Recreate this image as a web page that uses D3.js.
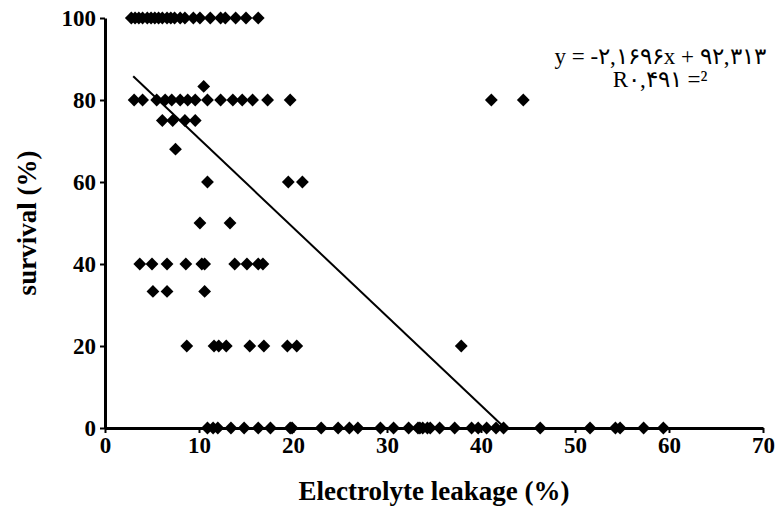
<!DOCTYPE html>
<html><head><meta charset="utf-8">
<script src="https://cdn.jsdelivr.net/npm/d3@7"></script>
<style>body{margin:0;background:#fff}</style>
</head><body>
<script>
// survival level -> electrolyte leakage values (%)
var row100 = [2.8,3.2,3.6,4.0,4.5,4.9,5.3,5.7,6.1,6.6,7.0,7.4,8.0,8.5,9.4,10.1,11.2,12.3,12.8,13.9,15.0,16.3];
var row83 = [10.5];
var row80 = [3.1,4.0,5.5,6.4,7.1,8.0,8.8,9.6,10.9,12.3,13.6,14.6,15.7,17.3,19.7,41.1,44.5];
var row75 = [6.1,7.2,8.5,9.6];
var row68 = [7.5];
var row60 = [10.9,19.5,21.0];
var row50 = [10.1,13.3];
var row40 = [3.7,5.0,6.6,8.6,10.3,10.6,13.8,15.1,16.3,16.8];
var row33 = [5.1,6.6,10.6];
var row20 = [8.7,11.6,12.1,12.9,15.4,16.9,19.4,20.4,37.9];
var row0 = [10.9,11.5,12.0,13.4,14.8,16.3,17.6,19.7,19.9,23.0,24.8,26.0,26.9,29.3,30.7,32.3,33.3,33.5,33.8,34.3,34.6,35.6,37.2,39.0,39.7,40.6,41.6,42.4,46.3,51.6,54.3,54.8,57.3,59.4];
var levels = [100,83.3,80,75,68,60,50,40,33.3,20,0];
var rows = [row100,row83,row80,row75,row68,row60,row50,row40,row33,row20,row0];
var xTicks = [0,10,20,30,40,50,60,70];
var yTicks = [0,20,40,60,80,100];
var slope = -2.1696, intercept = 92.313;

var svg = d3.select("body").append("svg").attr("width",776).attr("height",508);
var x = d3.scaleLinear().domain([0,70]).range([105,763]);
var y = d3.scaleLinear().domain([0,100]).range([428,18]);
var font = "'Liberation Serif', 'Times New Roman', serif";

var pts = [];
rows.forEach(function(r,i){ r.forEach(function(v){ pts.push([v,levels[i]]); }); });

svg.selectAll("path.pt").data(pts).enter().append("path")
  .attr("class","pt")
  .attr("d", d3.symbol().type(d3.symbolSquare).size(82))
  .attr("transform", function(d){ return "translate("+x(d[0])+","+y(d[1])+") rotate(45)"; })
  .attr("fill","#000");

// trend line
var x0 = 3, x1 = -intercept/slope;
svg.append("line").attr("x1",x(x0)).attr("y1",y(slope*x0+intercept))
  .attr("x2",x(x1)).attr("y2",y(0)).attr("stroke","#000").attr("stroke-width",2);

var xa = svg.append("g").attr("transform","translate(0,428)")
  .call(d3.axisBottom(x).tickValues(xTicks).tickSize(5).tickSizeOuter(0));
var ya = svg.append("g").attr("transform","translate(105,0)")
  .call(d3.axisLeft(y).tickValues(yTicks).tickSize(5).tickSizeOuter(0));
[xa,ya].forEach(function(a){
  a.attr("font-family",font).attr("font-size",23).attr("font-weight","bold");
  a.select(".domain").attr("stroke-width",3);
  a.selectAll(".tick line").attr("stroke-width",2);
  a.selectAll("text").attr("fill","#000");
});
ya.selectAll("text").attr("x",-9);
xa.selectAll("text").attr("y",9);

svg.append("text").attr("x",434).attr("y",500).attr("text-anchor","middle")
  .attr("font-family",font).attr("font-size",27).attr("font-weight","bold").text("Electrolyte leakage (%)");
svg.append("text").attr("transform","translate(36,223) rotate(-90)").attr("text-anchor","middle")
  .attr("font-family",font).attr("font-size",27).attr("font-weight","bold").text("survival (%)");

svg.append("text").attr("x",660).attr("y",64).attr("text-anchor","middle")
  .attr("font-family",font).attr("font-size",23).text("y = -۲,۱۶۹۶x + ۹۲,۳۱۳");
svg.append("text").attr("x",660).attr("y",87).attr("text-anchor","middle")
  .attr("font-family",font).attr("font-size",23).text("R۰,۴۹۱ =²");
</script>
</body></html>
